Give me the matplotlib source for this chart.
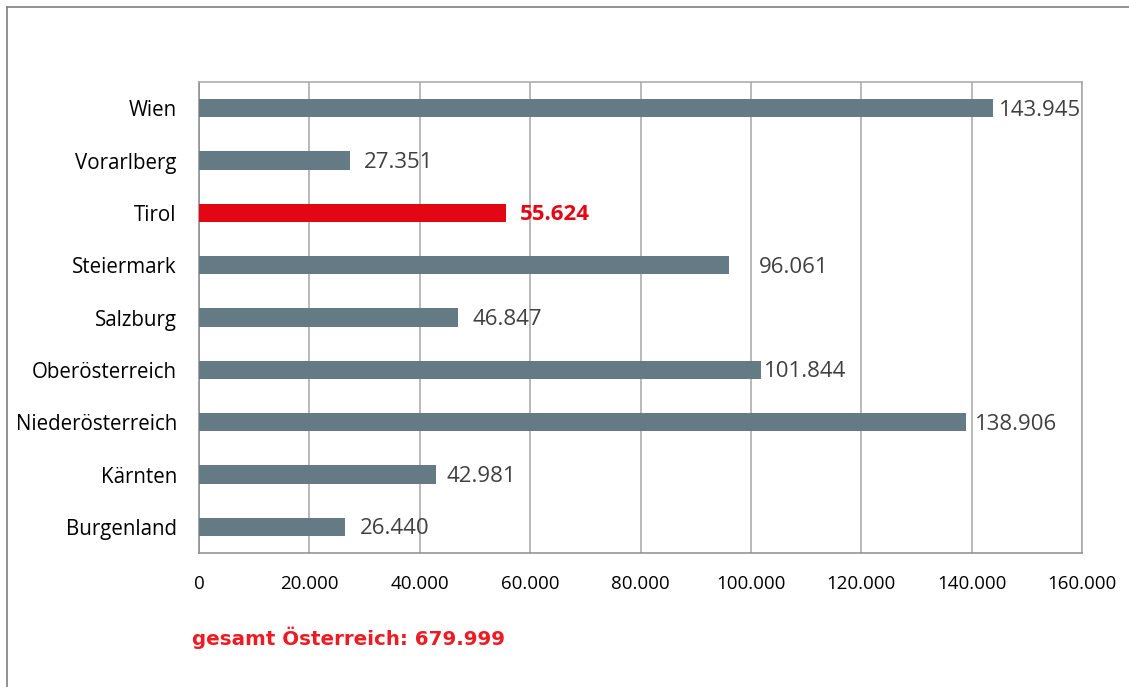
import matplotlib
matplotlib.use("Agg")
import matplotlib.pyplot as plt
from matplotlib.lines import Line2D
from matplotlib.transforms import offset_copy

# ---- data ----
regions = ["Burgenland", "Kärnten", "Niederösterreich", "Oberösterreich",
           "Salzburg", "Steiermark", "Tirol", "Vorarlberg", "Wien"]
values = [26440, 42981, 138906, 101844, 46847, 96061, 55624, 27351, 143945]
value_labels = ["26.440", "42.981", "138.906", "101.844", "46.847",
                "96.061", "55.624", "27.351", "143.945"]
highlight = "Tirol"
x_ticks = [0, 20000, 40000, 60000, 80000, 100000, 120000, 140000, 160000]
x_tick_labels = ["0", "20.000", "40.000", "60.000", "80.000", "100.000",
                 "120.000", "140.000", "160.000"]
total_text = "gesamt Österreich: 679.999"

# ---- style ----
label_dx_px = [15, 10, 9, 3, 15, 30, 14, 14, 6]
GRAY_BAR = "#647A84"
RED = "#E30613"
TXT = "#404040"

W, H = 1129, 687
fig = plt.figure(figsize=(W / 100, H / 100), dpi=100)
ax = fig.add_axes([199 / W, 1 - 553 / H, (1082 - 199) / W, (553 - 82) / H])

colors = [RED if r == highlight else GRAY_BAR for r in regions]
ypos = list(range(len(regions)))
ax.barh(ypos, values, height=0.35, color=colors, zorder=3)

for y, v, lab, dx, r in zip(ypos, values, value_labels, label_dx_px, regions):
    tr = offset_copy(ax.transData, fig=fig, x=dx * 0.72, y=-2 * 0.72, units="points")
    if r == highlight:
        ax.text(v, y, lab, transform=tr, va="center", ha="left",
                fontsize=16, fontweight="bold", color=RED, family="Open Sans")
    else:
        ax.text(v, y, lab, transform=tr, va="center", ha="left",
                fontsize=16, color=TXT, family="Open Sans")

ax.set_xlim(0, 160000)
ax.set_ylim(-0.5, len(regions) - 0.5)
ax.set_xticks(x_ticks)
ax.set_xticklabels(x_tick_labels, fontsize=13.5, color="#000000", family="Open Sans")
ax.set_yticks(ypos)
ax.set_yticklabels(regions, fontsize=14.8, color="#000000", family="Open Sans")
ax.tick_params(axis="both", length=0)
ax.tick_params(axis="x", pad=16)
ax.tick_params(axis="y", pad=16)
ax.xaxis.grid(True, color="#A6A6A6", linewidth=1.1, zorder=0)
ax.set_axisbelow(True)
for s in ax.spines.values():
    s.set_color("#A6A6A6")
    s.set_linewidth(1.1)
ax.spines["left"].set_color("#8C8C8C")
ax.spines["bottom"].set_color("#8C8C8C")

fig.text(192 / W, 1 - 638 / H, total_text, color="#ED1C24", fontsize=14.3,
         fontweight="bold", family="DejaVu Sans", va="center", ha="left")

# outer frame (left and top edges visible)
fig.add_artist(Line2D([6.5 / W, 6.5 / W], [0, 1 - 7 / H], transform=fig.transFigure,
                      color="#7F7F7F", linewidth=1.2))
fig.add_artist(Line2D([6.5 / W, 1], [1 - 7 / H, 1 - 7 / H], transform=fig.transFigure,
                      color="#7F7F7F", linewidth=1.2))

fig.savefig("out.png", dpi=100)
